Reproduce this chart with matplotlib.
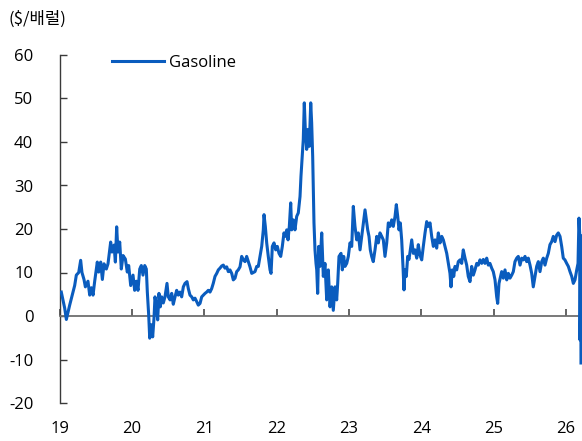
import matplotlib
matplotlib.use("Agg")
import matplotlib.pyplot as plt

# decimal-year dates and gasoline crack spread ($/bbl)
dates = [
    2019.022, 2019.069, 2019.092, 2019.138, 2019.184, 2019.207, 2019.230, 2019.263, 2019.290, 2019.308,
    2019.336, 2019.355, 2019.391, 2019.415, 2019.438, 2019.461, 2019.484, 2019.520, 2019.539, 2019.567,
    2019.590, 2019.613, 2019.645, 2019.668, 2019.705, 2019.723, 2019.751, 2019.770, 2019.788, 2019.806,
    2019.830, 2019.852, 2019.876, 2019.908, 2019.935, 2019.954, 2019.982,
    2020.014, 2020.037, 2020.060, 2020.083, 2020.107, 2020.129, 2020.152, 2020.176, 2020.198, 2020.212,
    2020.231, 2020.245, 2020.267, 2020.286, 2020.304,
    2020.318, 2020.341, 2020.355, 2020.373, 2020.391, 2020.411, 2020.433, 2020.456, 2020.484, 2020.502,
    2020.526, 2020.549, 2020.571, 2020.595, 2020.618, 2020.640, 2020.664, 2020.687, 2020.710, 2020.733,
    2020.761, 2020.779, 2020.802, 2020.826, 2020.848, 2020.871, 2020.895, 2020.917, 2020.941, 2020.964,
    2020.986,
    2021.010, 2021.033, 2021.055, 2021.079, 2021.102, 2021.124, 2021.148, 2021.172, 2021.194,
    2021.217, 2021.241, 2021.263, 2021.286, 2021.310, 2021.332, 2021.355, 2021.379, 2021.401, 2021.425,
    2021.448, 2021.470, 2021.494, 2021.517, 2021.539, 2021.563, 2021.586, 2021.609, 2021.632, 2021.656,
    2021.701, 2021.725, 2021.747, 2021.770, 2021.794, 2021.816, 2021.826, 2021.844, 2021.863, 2021.885,
    2021.909, 2021.923, 2021.941, 2021.964, 2021.988,
    2022.010, 2022.033, 2022.057, 2022.079, 2022.102,
    2022.120, 2022.140, 2022.158, 2022.176, 2022.195, 2022.209, 2022.231, 2022.254, 2022.278, 2022.300,
    2022.324, 2022.337, 2022.351, 2022.369, 2022.383, 2022.397, 2022.416, 2022.434, 2022.452, 2022.472,
    2022.485, 2022.499, 2022.517, 2022.531, 2022.545, 2022.555, 2022.568, 2022.582, 2022.600, 2022.624,
    2022.646,
    2022.669, 2022.693, 2022.715, 2022.739, 2022.762, 2022.784, 2022.808, 2022.831, 2022.845, 2022.863,
    2022.891, 2022.909, 2022.928, 2022.946, 2022.970, 2022.992,
    2023.015, 2023.039, 2023.061, 2023.084, 2023.108, 2023.130, 2023.154, 2023.177, 2023.199, 2023.223,
    2023.241, 2023.260, 2023.278, 2023.296, 2023.315, 2023.337, 2023.361, 2023.385, 2023.407, 2023.430,
    2023.454, 2023.476, 2023.499, 2023.523, 2023.545, 2023.568, 2023.592, 2023.614, 2023.638, 2023.656,
    2023.675, 2023.693, 2023.711, 2023.730, 2023.748, 2023.762, 2023.776, 2023.794, 2023.813, 2023.831,
    2023.849, 2023.869, 2023.891,
    2023.914, 2023.938, 2023.960, 2023.983,
    2024.007, 2024.029, 2024.053, 2024.076, 2024.098, 2024.122, 2024.145, 2024.168, 2024.191, 2024.214,
    2024.237, 2024.260, 2024.284, 2024.306, 2024.329, 2024.353, 2024.375, 2024.398, 2024.412, 2024.430,
    2024.450, 2024.467, 2024.491, 2024.513, 2024.537, 2024.560, 2024.582, 2024.606, 2024.629, 2024.651,
    2024.675, 2024.698, 2024.721, 2024.744, 2024.768, 2024.790, 2024.813, 2024.837, 2024.859, 2024.882,
    2024.906, 2024.928, 2024.951, 2024.975, 2024.997,
    2025.021, 2025.044, 2025.058, 2025.076,
    2025.113, 2025.136, 2025.159, 2025.183, 2025.205, 2025.228, 2025.252, 2025.274, 2025.297, 2025.321,
    2025.343, 2025.367, 2025.390, 2025.412, 2025.436, 2025.459, 2025.481, 2025.505, 2025.528, 2025.550,
    2025.574, 2025.597, 2025.620, 2025.643, 2025.667, 2025.689, 2025.712, 2025.736, 2025.758, 2025.781,
    2025.805, 2025.827, 2025.851, 2025.874, 2025.896, 2025.920, 2025.943, 2025.965, 2025.988,
    2026.012, 2026.035, 2026.058, 2026.082, 2026.104, 2026.127, 2026.151, 2026.169, 2026.182, 2026.192,
    2026.196, 2026.200, 2026.206, 2026.210,
]

gasoline = [
    5.5, 1.8, -0.8, 2.5, 5.5, 7.0, 9.4, 10.0, 12.8, 10.0,
    8.4, 6.7, 8.0, 4.8, 6.5, 4.8, 8.0, 12.4, 10.1, 12.4,
    8.4, 12.0, 10.8, 12.0, 17.0, 14.7, 16.3, 12.4, 20.5, 14.7,
    17.0, 10.8, 13.9, 13.1, 10.1, 11.6, 7.0,
    9.4, 5.9, 8.0, 5.9, 10.8, 11.6, 9.4, 11.6, 10.8, 5.5,
    0.2, -5.1, -2.0, -4.8, -0.6,
    4.4, 2.1, -0.9, 5.2, 2.1, 4.4, 3.0, 4.4, 7.5, 4.4,
    3.7, 5.2, 2.7, 4.4, 5.9, 4.8, 5.5, 4.4, 6.7, 7.5,
    7.9, 6.3, 4.8, 4.4, 3.7, 4.1, 3.3, 2.5, 2.9, 4.4,
    4.8,
    5.2, 5.5, 5.9, 5.5, 6.3, 7.5, 9.1, 9.8, 10.6,
    11.0, 11.5, 11.7, 11.0, 11.3, 10.2, 10.6, 9.8, 8.3, 8.7,
    10.2, 10.6, 11.3, 13.7, 12.9, 12.5, 13.7, 12.5, 11.3, 9.8,
    10.2, 11.4, 11.4, 13.7, 16.0, 19.8, 23.3, 20.6, 16.8, 13.7,
    10.6, 9.8, 16.0, 16.8, 15.2,
    16.0, 14.4, 13.7, 16.0, 19.1,
    18.3, 19.8, 17.5, 20.6, 26.0, 19.8, 22.1, 19.8, 22.9, 23.7,
    27.5, 32.1, 35.9, 40.6, 49.0, 42.9, 38.3, 42.9, 39.0, 49.0,
    44.4, 36.7, 21.4, 15.2, 12.1, 10.6, 5.2, 16.0, 11.4, 19.1,
    9.1,
    12.1, 3.7, 10.6, 2.1, 6.7, 1.3, 6.7, 3.7, 7.5, 13.7,
    14.4, 10.6, 13.7, 11.4, 12.1, 13.7,
    16.8, 16.0, 25.2, 20.6, 17.5, 19.1, 15.2, 18.3, 21.4, 24.4,
    22.1, 19.8, 18.3, 15.2, 13.7, 12.5, 15.2, 18.3, 16.8, 19.1,
    18.3, 17.5, 13.7, 16.8, 21.4, 20.6, 22.1, 20.6, 22.9, 25.6,
    22.9, 19.8, 21.4, 17.5, 11.4, 6.0, 10.6, 9.1, 13.7, 13.0,
    15.2, 17.5, 14.4,
    15.2, 13.3, 16.4, 14.0,
    12.9, 16.0, 19.1, 21.7, 20.6, 21.4, 18.3, 16.0, 17.5, 15.6,
    19.1, 16.8, 18.3, 17.5, 16.0, 14.4, 12.1, 9.8, 6.7, 10.6,
    9.1, 11.4, 10.6, 12.5, 12.9, 12.1, 15.2, 13.3, 11.7, 9.1,
    7.9, 11.4, 9.4, 10.6, 12.1, 11.7, 12.9, 12.1, 13.0, 12.1,
    13.3, 11.7, 12.1, 11.0, 10.2,
    8.3, 4.4, 2.9, 7.5,
    10.2, 8.7, 10.6, 8.3, 9.8, 8.7, 9.4, 10.2, 12.5, 13.3,
    13.7, 11.7, 13.3, 12.9, 13.7, 12.5, 13.3, 11.7, 9.8, 6.7,
    9.1, 11.4, 12.5, 10.2, 12.5, 13.3, 11.7, 13.3, 14.4, 16.4,
    17.1, 18.3, 17.1, 18.6, 19.1, 18.3, 16.0, 13.3, 12.9,
    12.1, 11.4, 10.2, 9.1, 7.5, 8.3, 10.6, 12.1, 22.5, 19.0,
    -5.5, 1.3, 18.5, -10.8,
]

years = [2019, 2020, 2021, 2022, 2023, 2024, 2025, 2026]
year_labels = ["19", "20", "21", "22", "23", "24", "25", "26"]
y_ticks = [-20, -10, 0, 10, 20, 30, 40, 50, 60]

blue = "#0A5CBE"
num_font = ["Open Sans", "DejaVu Sans"]
kr_font = ["Noto Sans CJK KR", "DejaVu Sans"]

plt.rcParams["font.family"] = num_font
plt.rcParams["axes.unicode_minus"] = False  # reference uses a plain hyphen

fig = plt.figure(figsize=(5.82, 4.41), dpi=100)
ax = fig.add_axes([59.7 / 582, 1 - 403 / 441, 1 - 59.7 / 582, 348 / 441])

ax.plot(dates, gasoline, color=blue, lw=2.2, label="Gasoline", zorder=3)

ax.set_xlim(2019.0, 2026.224)
ax.set_ylim(-20, 60)

# spines: left axis, zero line with year ticks pointing up
for side in ["top", "right"]:
    ax.spines[side].set_visible(False)
ax.spines["left"].set_color("#3a3a3a")
ax.spines["left"].set_linewidth(1.0)
ax.spines["bottom"].set_position(("data", 0))
ax.spines["bottom"].set_color("#6e6e6e")
ax.spines["bottom"].set_linewidth(1.3)

ax.set_yticks(y_ticks)
ax.tick_params(axis="y", direction="in", length=5, width=1, color="#3a3a3a",
               labelsize=12, pad=19)
ax.set_xticks(years)
ax.tick_params(axis="x", direction="in", length=5, width=1.2, color="#4a4a4a",
               labelbottom=False)

# year labels along the bottom
sec = ax.secondary_xaxis("bottom")
sec.set_xticks(years, year_labels)
sec.spines["bottom"].set_visible(False)
sec.tick_params(length=0, labelsize=12, pad=13)

fig.text(8 / 582, 1 - 19 / 441, "($/배럴)", family=kr_font, fontsize=12,
         ha="left", va="center")

ax.legend(loc="center left", bbox_to_anchor=(112 / 582, 1 - 63 / 441),
          bbox_transform=fig.transFigure, frameon=False, fontsize=12,
          handlelength=3.1, handletextpad=0.35, borderpad=0, borderaxespad=0)

fig.savefig("out.png", dpi=100)
